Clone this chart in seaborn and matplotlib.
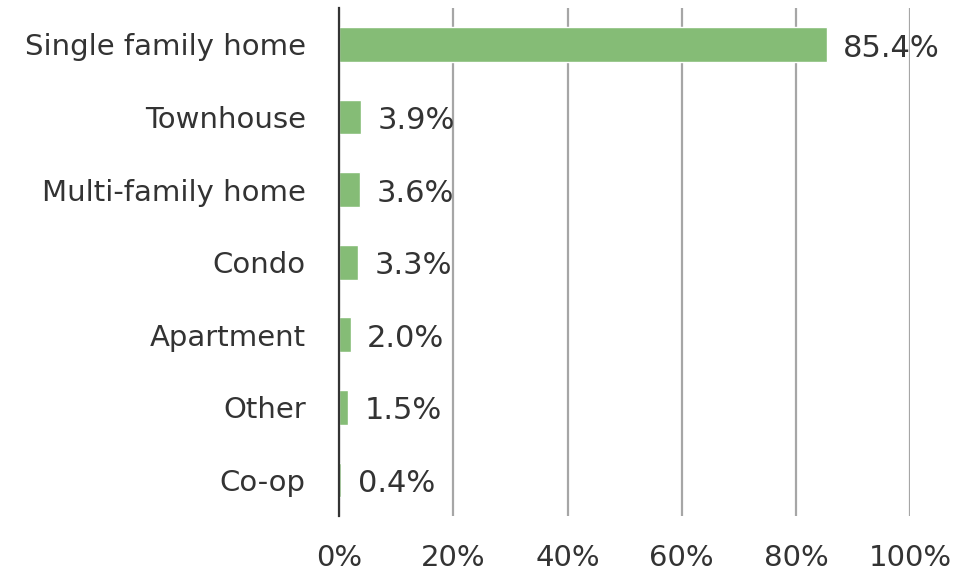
import matplotlib
matplotlib.use("Agg")
import matplotlib.pyplot as plt
import seaborn as sns
import pandas as pd

categories = ["Single family home", "Townhouse", "Multi-family home", "Condo", "Apartment", "Other", "Co-op"]
values = [85.4, 3.9, 3.6, 3.3, 2.0, 1.5, 0.4]
xticks = [0, 20, 40, 60, 80, 100]

sns.set_theme(style="white")
plt.rcParams['font.family'] = ['DejaVu Sans']

df = pd.DataFrame({"cat": categories, "val": values})
fig = plt.figure(figsize=(9.58, 5.82), dpi=100)
ax = fig.add_axes([0.354, 0.113, 0.596, 0.873])
sns.barplot(data=df, y="cat", x="val", orient="h", color="#85BC76", saturation=1, width=0.48, ax=ax, zorder=1)
ax.set_xlim(0, 100)
ax.set_ylim(6.5, -0.5)
ax.set_xticks(xticks)
ax.set_xticklabels([f"{t}%" for t in xticks])
ax.grid(axis="x", color="#A6A6A6", linewidth=1.6, zorder=0)
ax.set_axisbelow(True)
for s in ["top", "right", "bottom"]:
    ax.spines[s].set_visible(False)
ax.spines["left"].set_color("#333333")
ax.spines["left"].set_linewidth(1.6)
ax.set_xlabel("")
ax.set_ylabel("")
ax.tick_params(axis="both", length=0, labelsize=21, colors="#333333")
ax.tick_params(axis="y", pad=24)
ax.tick_params(axis="x", pad=20)
for i, v in enumerate(values):
    ax.text(v + 2.9, i + 0.05, f"{v:.1f}%", va="center", ha="left", fontsize=22, color="#333333")
fig.savefig("out.png", dpi=100)
